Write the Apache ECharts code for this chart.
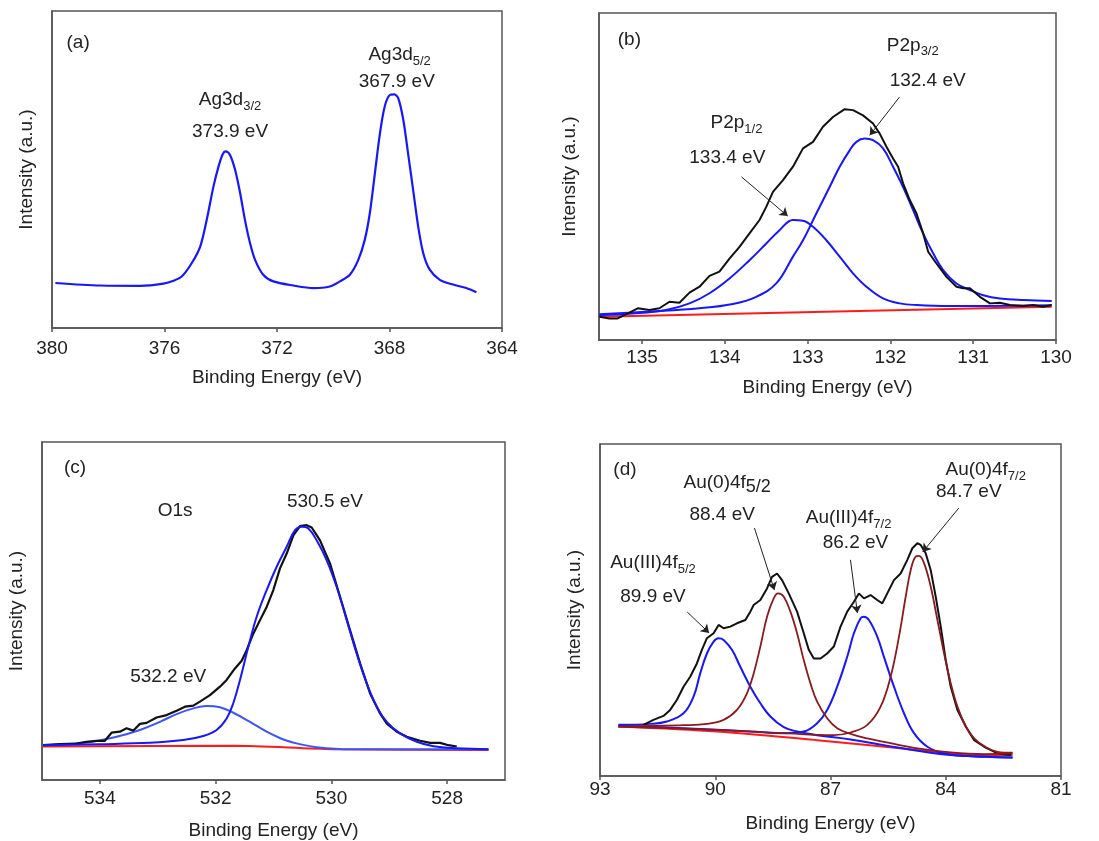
<!DOCTYPE html>
<html>
<head>
<meta charset="utf-8">
<script src="https://cdn.jsdelivr.net/npm/echarts@6/dist/echarts.min.js"></script>
<style>
    html, body { margin: 0; padding: 0; background: #fff; }
    #xps-chart { width: 1099px; height: 841px; }
</style>
</head>
<body>
<div id="xps-chart"></div>
<script>
// ---- (a) Ag3d ----
var agSpectrum = [[379.88,14.2],[378.28,13.4],[376.86,13.3],[376.04,14.0],[375.68,14.9],[375.38,16.3],[375.03,20.5],[374.73,25.7],[374.50,34.1],[374.26,44.6],[374.08,50.9],[373.93,54.8],[373.82,55.7],[373.67,54.6],[373.49,49.9],[373.31,42.5],[373.14,34.1],[372.96,26.8],[372.78,21.5],[372.49,16.8],[372.13,14.7],[371.42,13.4],[370.71,12.6],[370.12,13.1],[369.76,14.7],[369.41,16.8],[369.11,21.5],[368.88,27.8],[368.70,36.2],[368.52,48.8],[368.34,61.4],[368.17,69.9],[367.99,73.5],[367.83,73.7],[367.69,72.5],[367.51,65.7],[367.34,55.1],[367.16,43.6],[366.98,32.0],[366.80,23.6],[366.57,18.4],[366.21,15.2],[365.74,13.7],[365.27,12.6],[364.91,11.3]];
var aNotes = [[379.07,89.9,'(a)'],[373.67,71.9,'{m|Ag3d}{s|3/2}'],[373.67,61.9,'373.9 eV'],[367.64,86.1,'{m|Ag3d}{s|5/2}'],[367.74,77.6,'367.9 eV']];

// ---- (b) P2p ----
var pSpectrum = [[135.516,7.1],[135.395,6.6],[135.294,6.6],[135.153,8.4],[135.052,9.7],[134.911,9.2],[134.790,9.7],[134.669,11.7],[134.548,11.4],[134.427,14.5],[134.306,16.3],[134.185,19.6],[134.065,20.9],[133.944,24.9],[133.823,28.5],[133.702,32.6],[133.581,36.7],[133.500,40.7],[133.419,45.3],[133.298,48.9],[133.177,53.0],[133.056,58.6],[132.935,60.6],[132.815,65.2],[132.694,68.2],[132.552,70.6],[132.452,70.3],[132.331,68.7],[132.210,66.2],[132.129,63.1],[132.048,59.1],[131.968,55.5],[131.907,53.0],[131.847,47.9],[131.766,42.8],[131.685,38.7],[131.605,32.6],[131.544,27.0],[131.444,23.4],[131.323,19.3],[131.202,16.3],[131.121,15.8],[131.040,15.8],[130.919,13.2],[130.798,11.2],[130.677,11.4],[130.556,10.7],[130.395,10.4],[130.274,10.7],[130.153,10.2],[130.052,10.7]];
var p12Fit = [[135.516,7.6],[135.113,8.1],[134.710,9.2],[134.427,11.2],[134.185,14.3],[133.944,18.8],[133.702,24.4],[133.500,29.5],[133.339,33.6],[133.177,36.7],[133.056,36.5],[132.935,34.6],[132.774,30.5],[132.613,25.5],[132.452,20.4],[132.290,16.3],[132.089,12.7],[131.887,11.2],[131.685,10.7],[131.282,10.4],[130.879,10.4],[130.052,10.6]];
var p32Fit = [[135.516,7.9],[134.911,8.7],[134.306,9.7],[133.903,11.0],[133.621,13.2],[133.379,17.3],[133.177,25.5],[133.056,30.5],[132.895,38.7],[132.734,46.8],[132.613,53.0],[132.492,58.0],[132.411,60.6],[132.310,61.6],[132.210,61.1],[132.089,58.6],[131.968,53.0],[131.847,46.8],[131.726,39.7],[131.605,32.6],[131.484,26.5],[131.363,21.4],[131.202,17.3],[131.040,15.3],[130.879,13.7],[130.677,12.7],[130.395,12.2],[130.052,11.9]];
var pBackground = [[135.516,7.1],[130.052,10.2]];
var bTicks = [130, 131, 132, 133, 134, 135];
var bNotes = [[135.153,91.7,'(b)'],[131.73,90.1,'{m|P2p}{s|3/2}'],[131.55,79.4,'132.4 eV'],[133.86,66.3,'{m|P2p}{s|1/2}'],[133.97,55.6,'133.4 eV']];
var bArrows = [[133.80,49.9,133.24,37.9],[131.89,74.3,132.25,62.6]];

// ---- (c) O1s ----
var oSpectrum = [[534.98,10.3],[534.692,10.6],[534.403,10.8],[534.231,11.3],[534.058,11.6],[533.914,11.6],[533.798,14.0],[533.654,14.3],[533.539,15.3],[533.424,14.6],[533.308,16.6],[533.193,16.9],[533.020,18.5],[532.847,19.2],[532.674,20.5],[532.530,21.7],[532.386,22.0],[532.271,23.2],[532.098,25.1],[531.925,27.6],[531.810,29.6],[531.666,33.0],[531.550,35.3],[531.464,38.4],[531.349,43.3],[531.233,47.3],[531.118,51.2],[531.003,56.2],[530.888,62.6],[530.772,67.0],[530.657,72.4],[530.542,75.1],[530.427,75.4],[530.340,74.7],[530.196,70.9],[530.023,64.0],[529.850,54.2],[529.677,44.3],[529.504,34.5],[529.331,25.6],[529.159,19.7],[529.043,16.7],[528.870,14.3],[528.697,12.8],[528.467,11.6],[528.294,11.0],[528.121,11.0],[527.977,10.3],[527.833,9.9]];
var o530Fit = [[534.98,10.3],[534.0,10.6],[533.135,11.0],[532.559,11.8],[532.213,13.0],[531.983,14.8],[531.810,18.2],[531.695,22.7],[531.579,29.6],[531.435,39.4],[531.291,48.3],[531.118,56.2],[530.945,63.1],[530.772,69.0],[530.628,73.9],[530.513,74.9],[530.398,74.4],[530.254,70.9],[530.081,65.0],[529.908,57.1],[529.735,47.3],[529.562,37.4],[529.389,28.6],[529.216,21.7],[529.043,17.2],[528.813,13.8],[528.524,11.3],[528.236,10.0],[527.833,9.4],[527.285,9.1]];
var o532Fit = [[534.98,10.3],[534.288,11.0],[533.712,12.8],[533.308,14.8],[532.963,17.2],[532.674,19.5],[532.386,21.2],[532.156,21.9],[531.925,21.5],[531.695,19.9],[531.406,17.2],[531.118,14.3],[530.830,12.0],[530.542,10.6],[530.254,9.7],[529.677,9.1],[528.813,9.1],[527.285,9.1]];
var oBackground = [[534.98,9.9],[531.695,10.1],[529.965,9.1],[527.285,8.9]];
var cTicks = [528, 530, 532, 534];
var cNotes = [[534.43,92.5,'(c)'],[532.70,79.8,'O1s'],[530.11,82.2,'530.5 eV'],[532.82,30.4,'532.2 eV']];

// ---- (d) Au4f ----
var auSpectrum = [[91.870,15.4],[91.609,16.9],[91.348,18.1],[91.174,19.9],[91.0,22.9],[90.826,26.9],[90.652,29.9],[90.478,33.9],[90.348,38.0],[90.217,41.5],[90.043,43.0],[89.913,45.5],[89.783,44.5],[89.609,45.0],[89.435,46.0],[89.217,47.0],[89.087,49.5],[89.0,51.5],[88.826,53.0],[88.652,56.5],[88.522,60.0],[88.391,61.0],[88.261,59.0],[88.087,55.0],[87.870,49.5],[87.696,43.0],[87.565,38.0],[87.435,35.4],[87.261,35.4],[87.087,36.9],[86.913,39.0],[86.739,45.0],[86.565,49.5],[86.391,52.5],[86.261,55.0],[86.130,53.5],[85.957,54.5],[85.783,53.0],[85.652,52.0],[85.522,55.0],[85.348,59.0],[85.174,61.0],[85.0,65.1],[84.870,68.6],[84.739,70.1],[84.652,69.6],[84.522,67.1],[84.391,62.0],[84.261,54.0],[84.130,45.0],[84.0,34.9],[83.870,26.9],[83.696,19.9],[83.478,14.9],[83.261,10.8],[83.0,8.8],[82.652,6.8],[82.304,6.3]];
var au3f52Fit = [[92.522,15.4],[91.696,15.7],[91.261,16.4],[90.826,18.9],[90.565,23.9],[90.391,30.9],[90.217,36.9],[90.043,40.5],[89.913,41.5],[89.783,41.0],[89.565,38.0],[89.348,32.9],[89.087,26.9],[88.826,21.9],[88.565,17.9],[88.217,14.7],[87.870,13.4],[87.348,12.3],[86.478,11.0],[85.609,9.3],[84.739,7.6],[83.870,6.3],[83.0,5.8],[82.261,5.6]];
var au0f52Fit = [[92.522,14.9],[91.696,15.1],[90.826,15.3],[90.217,15.7],[89.783,16.9],[89.435,19.9],[89.174,24.9],[89.0,30.9],[88.826,39.0],[88.652,48.0],[88.478,53.5],[88.365,55.0],[88.217,54.0],[88.043,49.5],[87.870,43.0],[87.696,34.9],[87.522,27.9],[87.348,22.4],[87.087,17.4],[86.826,14.4],[86.478,12.7],[86.043,11.3],[85.609,10.3],[84.739,8.3],[83.870,7.1],[83.0,6.6],[82.261,6.8]];
var au3f72Fit = [[92.522,15.1],[90.826,14.4],[89.087,13.4],[88.217,12.9],[87.696,13.4],[87.348,15.9],[87.087,19.9],[86.826,26.9],[86.565,35.9],[86.391,43.0],[86.217,47.5],[86.130,48.0],[86.0,47.0],[85.783,42.0],[85.609,35.9],[85.348,26.9],[85.087,18.9],[84.826,12.9],[84.478,8.8],[84.043,6.8],[83.435,6.0],[82.261,5.6]];
var au0f72Fit = [[92.522,14.9],[89.957,13.9],[88.217,12.9],[86.913,12.3],[86.478,13.1],[86.043,15.4],[85.696,20.9],[85.435,29.9],[85.217,42.0],[85.043,54.0],[84.913,62.0],[84.783,66.1],[84.696,66.3],[84.565,64.1],[84.391,57.0],[84.217,47.0],[84.043,36.9],[83.870,27.9],[83.696,20.9],[83.478,14.9],[83.261,11.3],[83.0,9.0],[82.652,7.3],[82.261,7.0]];
var auBackground = [[92.522,14.9],[89.957,13.4],[87.348,10.8],[84.739,7.8],[83.435,6.5],[82.261,6.3]];
var dNotes = [[92.35,92.2,'(d)'],[89.69,88.3,'{m|Au(0)4f}{b|5/2}'],[89.82,78.6,'88.4 eV'],[86.53,77.7,'{m|Au(III)4f}{s|7/2}'],[86.35,70.2,'86.2 eV'],[82.96,92.2,'{m|Au(0)4f}{s|7/2}'],[83.40,85.5,'84.7 eV'],[91.62,64.2,'{m|Au(III)4f}{s|5/2}'],[91.62,53.9,'89.9 eV']];
var dArrows = [[88.98,74.7,88.46,56.0],[86.48,65.1,86.30,49.1],[83.66,80.7,84.60,67.5],[90.73,49.4,90.16,43.1]];

var FONT = '"Liberation Sans", Arial, sans-serif';
var FONT_SIZE = 19;
var TEXT_COLOR = '#222';
var FRAME_COLOR = '#555';

var makeNotes = function (notes) {
    return {
        symbol: 'rect',
        symbolSize: 1,
        silent: true,
        itemStyle: { color: 'rgba(0,0,0,0)' },
        label: {
            show: true,
            position: 'inside',
            color: TEXT_COLOR,
            fontFamily: FONT,
            fontSize: FONT_SIZE,
            rich: {
                m: { fontSize: FONT_SIZE, lineHeight: 26, color: TEXT_COLOR, fontFamily: FONT, verticalAlign: 'middle' },
                s: { fontSize: 13, lineHeight: 13, color: TEXT_COLOR, fontFamily: FONT, verticalAlign: 'bottom' },
                b: { fontSize: 18, lineHeight: 18, color: TEXT_COLOR, fontFamily: FONT, verticalAlign: 'bottom' }
            }
        },
        data: notes.map(function (n) {
            return { coord: [n[0], n[1]], label: { formatter: n[2] } };
        })
    };
};

var makeArrows = function (arrows) {
    return {
        silent: true,
        symbol: ['none', 'arrow'],
        symbolSize: 8,
        label: { show: false },
        lineStyle: { color: '#222', width: 1, type: 'solid' },
        data: arrows.map(function (a) {
            return [{ coord: [a[0], a[1]] }, { coord: [a[2], a[3]] }];
        })
    };
};

var makeXAxis = function (idx, min, max, interval, ticks, margin, nameGap) {
    var axis = {
        gridIndex: idx,
        type: 'value',
        inverse: true,
        min: min,
        max: max,
        name: 'Binding Energy (eV)',
        nameLocation: 'middle',
        nameGap: nameGap,
        nameTextStyle: { fontFamily: FONT, fontSize: FONT_SIZE, color: TEXT_COLOR },
        axisLine: { show: true, lineStyle: { color: FRAME_COLOR, width: 1.5 } },
        axisTick: { show: true, inside: false, length: 4, lineStyle: { color: FRAME_COLOR, width: 1.5 } },
        axisLabel: { fontFamily: FONT, fontSize: FONT_SIZE, color: TEXT_COLOR, margin: margin },
        splitLine: { show: false }
    };
    if (ticks) {
        axis.axisLabel.customValues = ticks;
        axis.axisTick.customValues = ticks;
    } else {
        axis.interval = interval;
    }
    return axis;
};

var makeYAxis = function (idx, nameGap) {
    return {
        gridIndex: idx,
        type: 'value',
        min: 0,
        max: 100,
        name: 'Intensity (a.u.)',
        nameLocation: 'middle',
        nameGap: nameGap,
        nameTextStyle: { fontFamily: FONT, fontSize: FONT_SIZE, color: TEXT_COLOR },
        axisLine: { show: true, lineStyle: { color: FRAME_COLOR, width: 1.5 } },
        axisTick: { show: false },
        axisLabel: { show: false },
        splitLine: { show: false }
    };
};

var lineSeries = function (idx, name, data, color, width, smooth, extra) {
    var s = {
        name: name,
        type: 'line',
        xAxisIndex: idx,
        yAxisIndex: idx,
        data: data,
        showSymbol: false,
        smooth: smooth,
        lineStyle: { color: color, width: width },
        itemStyle: { color: color },
        z: 3
    };
    if (extra) {
        for (var k in extra) s[k] = extra[k];
    }
    return s;
};

var BLACK = '#111';
var BLUE = '#1616ff';
var LIGHT_BLUE = '#3a55ff';
var RED = '#ff1a1a';
var BROWN = '#8b1a1a';

option = {
    animation: false,
    backgroundColor: '#fff',
    grid: [
        { left: 52, top: 11, width: 450, height: 317, show: true, borderColor: FRAME_COLOR, borderWidth: 1.5 },
        { left: 599, top: 13, width: 457, height: 327, show: true, borderColor: FRAME_COLOR, borderWidth: 1.5 },
        { left: 42, top: 442, width: 463, height: 338, show: true, borderColor: FRAME_COLOR, borderWidth: 1.5 },
        { left: 600, top: 444, width: 461, height: 332, show: true, borderColor: FRAME_COLOR, borderWidth: 1.5 }
    ],
    xAxis: [
        makeXAxis(0, 364, 380, 4, null, 11, 40),
        makeXAxis(1, 130, 135.52, null, bTicks, 8, 38),
        makeXAxis(2, 527, 535, null, cTicks, 9, 41),
        makeXAxis(3, 81, 93, 3, null, 4, 38)
    ],
    yAxis: [
        makeYAxis(0, 16),
        makeYAxis(1, 20),
        makeYAxis(2, 16),
        makeYAxis(3, 16)
    ],
    series: [
        lineSeries(0, 'Ag3d', agSpectrum, BLUE, 2.2, 0.3, { markPoint: makeNotes(aNotes) }),

        lineSeries(1, 'P background', pBackground, RED, 2, false),
        lineSeries(1, 'P2p1/2', p12Fit, BLUE, 2, 0.4),
        lineSeries(1, 'P2p3/2', p32Fit, BLUE, 2, 0.4),
        lineSeries(1, 'P2p', pSpectrum, BLACK, 2, false, { markPoint: makeNotes(bNotes), markLine: makeArrows(bArrows) }),

        lineSeries(2, 'O background', oBackground, RED, 2, 0.3),
        lineSeries(2, 'O 532.2', o532Fit, LIGHT_BLUE, 2, 0.4),
        lineSeries(2, 'O1s', oSpectrum, BLACK, 2.2, false, { markPoint: makeNotes(cNotes) }),
        lineSeries(2, 'O 530.5', o530Fit, BLUE, 2, 0.4),

        lineSeries(3, 'Au background', auBackground, RED, 2, 0.3),
        lineSeries(3, 'Au(III)4f5/2', au3f52Fit, BLUE, 2, 0.4),
        lineSeries(3, 'Au(III)4f7/2', au3f72Fit, BLUE, 2, 0.4),
        lineSeries(3, 'Au4f', auSpectrum, BLACK, 2, false, { markPoint: makeNotes(dNotes), markLine: makeArrows(dArrows) }),
        lineSeries(3, 'Au(0)4f5/2', au0f52Fit, BROWN, 1.8, 0.4),
        lineSeries(3, 'Au(0)4f7/2', au0f72Fit, BROWN, 1.8, 0.4)
    ]
};

var xpsChart = echarts.init(document.getElementById('xps-chart'));
xpsChart.setOption(option);
</script>
</body>
</html>
